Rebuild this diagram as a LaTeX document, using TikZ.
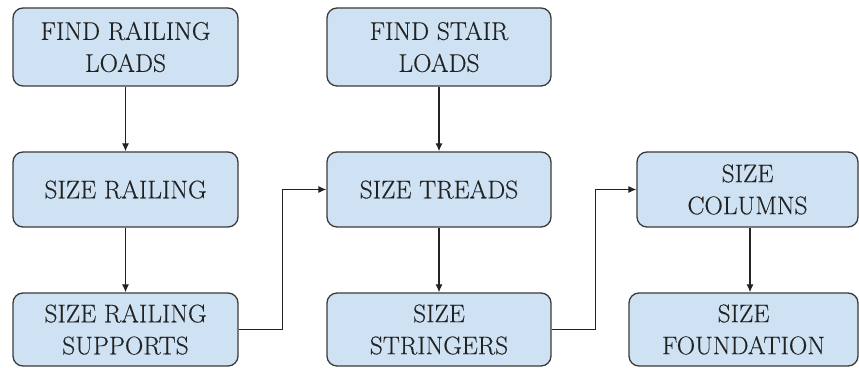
\documentclass[tikz,border=0pt]{standalone}
\usepackage{fontspec}
\newfontfamily\boxfont{Latin Modern Roman}[FakeBold=0.3]
\usetikzlibrary{arrows.meta}
\definecolor{boxfill}{HTML}{CFE2F3}
\definecolor{boxline}{HTML}{3A3A3A}
\definecolor{txt}{HTML}{222222}
\begin{document}
\begin{tikzpicture}[x=1pt,y=1pt,
  box/.style={draw=boxline, fill=boxfill, line width=1.3pt, rounded corners=10pt,
    align=center, font=\boxfont\fontsize{25.5}{32}\selectfont, inner sep=0pt, text=txt},
  conn/.style={draw=txt, line width=1.2pt, -{Latex[length=8pt,width=7pt]}}]
\useasboundingbox (0,0) rectangle (859,367);
% left column
\node[box, minimum width=225pt, minimum height=78pt] (frl) at (125.5,320) {FIND RAILING\\LOADS};
\node[box, minimum width=225pt, minimum height=75pt] (sr) at (125.5,177.5) {SIZE RAILING};
\node[box, minimum width=225pt, minimum height=73pt] (srs) at (125.5,37.5) {SIZE RAILING\\SUPPORTS};
% middle column
\node[box, minimum width=224pt, minimum height=78pt] (fsl) at (439,320) {FIND STAIR\\LOADS};
\node[box, minimum width=224pt, minimum height=75pt] (st) at (439,177.5) {SIZE TREADS};
\node[box, minimum width=224pt, minimum height=73pt] (ss) at (439,37.5) {SIZE\\STRINGERS};
% right column
\node[box, minimum width=221pt, minimum height=75pt] (sc) at (747.5,177.5) {SIZE\\COLUMNS};
\node[box, minimum width=229pt, minimum height=73pt] (sf) at (743.5,37.5) {SIZE\\FOUNDATION};
% connectors
\draw[conn] (frl.south) -- (sr.north);
\draw[conn] (sr.south) -- (srs.north);
\draw[conn] (fsl.south) -- (st.north);
\draw[conn] (st.south) -- (ss.north);
\draw[conn] (sc.south -| 750,0) -- (sf.north -| 750,0);
\draw[conn] (srs.east) -- ++(44,0) |- (st.west);
\draw[conn] (ss.east) -- ++(44,0) |- (sc.west);
\end{tikzpicture}
\end{document}
